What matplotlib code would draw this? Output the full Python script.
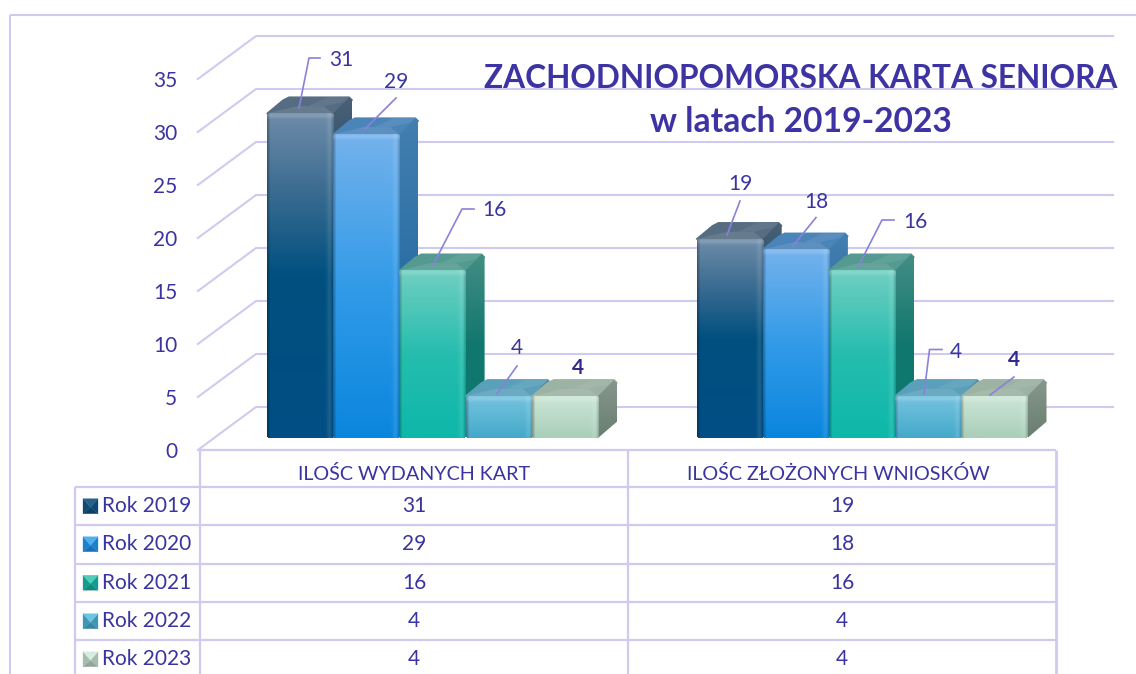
import numpy as np
import matplotlib
matplotlib.use("Agg")
import matplotlib.pyplot as plt
from matplotlib.patches import Polygon
from matplotlib.colors import to_rgb
from matplotlib.transforms import ScaledTranslation

# ---------- data ----------
categories = ["ILOŚC WYDANYCH KART", "ILOŚC ZŁOŻONYCH WNIOSKÓW"]
series_names = ["Rok 2019", "Rok 2020", "Rok 2021", "Rok 2022", "Rok 2023"]
rok_2019 = [31, 19]
rok_2020 = [29, 18]
rok_2021 = [16, 16]
rok_2022 = [4, 4]
rok_2023 = [4, 4]
series_values = [rok_2019, rok_2020, rok_2021, rok_2022, rok_2023]
y_ticks = [0, 5, 10, 15, 20, 25, 30, 35]
title_line_1 = "ZACHODNIOPOMORSKA KARTA SENIORA"
title_line_2 = "w latach 2019-2023"

# ---------- style ----------
W, H = 1136, 674
plt.rcParams["font.family"] = ["Lato", "DejaVu Sans"]
TXT = "#3A34A0"
LINE = "#CFCAF0"
LEAD = "#8A82D8"

FRONT = [
    [(0, "#6E8CA8"), (0.22, "#3F6E93"), (0.5, "#00507F"), (1, "#004E84")],
    [(0, "#74B2EC"), (0.5, "#329BE8"), (1, "#0A86DE")],
    [(0, "#70CFC2"), (0.5, "#25BDAE"), (1, "#0DB8AA")],
    [(0, "#74C3DE"), (1, "#45A9CA")],
    [(0, "#CBE6D5"), (1, "#A9CEB9")],
]
SIDE = [
    [(0, "#4B6175"), (0.5, "#003E66"), (1, "#003E66")],
    [(0, "#437FB0"), (1, "#145E98")],
    [(0, "#438E84"), (0.5, "#10776E"), (1, "#0F7A70")],
    [(0, "#4E8CA6"), (1, "#3A7F9C")],
    [(0, "#86988B"), (1, "#697E70")],
]
TOP = ["#566C82", "#4B84B8", "#549A90", "#5AA0BA", "#9CB2A3"]
KEY = [
    ("#27608A", "#0F4A75", "#0B3F66"),
    ("#4FB0F0", "#1C80CC", "#1671B8"),
    ("#4ECDB8", "#149C8E", "#118A7E"),
    ("#6CC6E2", "#4096B4", "#3A86A2"),
    ("#D6ECDF", "#A6BDAE", "#8FA698"),
]


def px_to_fig(x0, y0, x1, y1):
    """figure rectangle from reference pixel corners (y downwards)"""
    return [x0 / W, 1 - y0 / H, (x1 - x0) / W, (y0 - y1) / H]


fig = plt.figure(figsize=(W / 100, H / 100), dpi=100, facecolor="white")

# ---------- back wall, floor and value axis ----------
ax_wall = fig.add_axes(px_to_fig(200, 450, 1056, 79), zorder=1)
ax_wall.patch.set_visible(False)
ax_wall.set_xlim(-0.5, 1.5)
ax_wall.set_ylim(0, 35)
for s in ax_wall.spines.values():
    s.set_visible(False)
ax_wall.set_yticks(y_ticks)
ax_wall.set_yticklabels([str(v) for v in y_ticks], fontsize=15, color=TXT)
ax_wall.tick_params(axis="y", length=0, pad=16.5)
ax_wall.set_xticks(range(len(categories)))
ax_wall.set_xticklabels(categories, fontsize=14.2, color=TXT)
ax_wall.tick_params(axis="x", length=0, pad=11)
ax_wall.get_xticklabels()[1].set_transform(
    ax_wall.get_xticklabels()[1].get_transform()
    + ScaledTranslation(-3.5 / 100, 0, fig.dpi_scale_trans))

wall_dx = 56 / 428          # depth in category units
wall_dy = 43 / 10.6         # depth in value units
wall_right = (1113 - 200) / 428 - 0.5
for v in y_ticks:
    ax_wall.plot([-0.505, -0.5 + wall_dx, wall_right],
                 [v, v + wall_dy, v + wall_dy],
                 color=LINE, lw=1.5, clip_on=False, zorder=1,
                 solid_joinstyle="miter")

# ---------- 3-D bars ----------
UNIT_PX = 10.47
ax_bars = fig.add_axes(px_to_fig(200, 438, 1056, 438 - 35 * UNIT_PX), zorder=2)
ax_bars.patch.set_visible(False)
ax_bars.axis("off")

PX_X = 1 / 428
PX_Y = 1 / UNIT_PX
bar_w = 66.2 * PX_X
dx = 19 * PX_X
dy = 16.3 * PX_Y
shift = [18.5 * PX_X, 20 * PX_X]
cx = 3 * PX_X
cy = 3 * PX_Y


def ramp(stops, n):
    pos = [p for p, _ in stops]
    rgb = np.array([to_rgb(c) for _, c in stops])
    t = np.linspace(0, 1, n)
    return np.stack([np.interp(t, pos, rgb[:, k]) for k in range(3)], axis=1)


def front_image(stops, w, h):
    col = ramp(stops, h)
    img = np.repeat(col[:, None, :], w, axis=1)
    a = np.ones((h, w))
    xx = np.arange(w)
    yy = np.arange(h)
    left = np.clip(xx / 3.0, 0, 1)
    right = np.clip((w - 1 - xx) / 2.5, 0, 1)
    edge = (0.72 + 0.28 * left) * (0.82 + 0.18 * right)
    img = img * edge[None, :, None]
    # soft light bevel near the right edge and top edge
    glow_r = np.exp(-((w - 5 - xx) / 2.5) ** 2) * 0.10
    img = img + (1 - img) * glow_r[None, :, None]
    glow_t = np.exp(-((yy - 2) / 2.5) ** 2) * 0.16
    img = img + (1 - img) * glow_t[:, None, None]
    # rounded corners
    r = 3
    for j in range(min(r, h)):
        for i in range(r):
            d = np.hypot(r - i - 0.5, r - j - 0.5)
            if d > r:
                a[j, i] = a[j, w - 1 - i] = 0
                a[h - 1 - j, i] = a[h - 1 - j, w - 1 - i] = 0
    return np.dstack([np.clip(img, 0, 1), a])


def mix(c, amount):
    rgb = np.array(to_rgb(c))
    return tuple(rgb + (1 - rgb) * amount)


for c in range(len(categories)):
    for i, vals in enumerate(series_values):
        v = vals[c]
        x0 = c + shift[c] + (i - 2.5) * bar_w
        x1 = x0 + bar_w
        # top face with softened back corners
        ax_bars.add_patch(Polygon(
            [(x0, v), (x1, v), (x1 + dx, v + dy - cy), (x1 + dx - cx, v + dy),
             (x0 + dx + cx, v + dy), (x0 + dx - cx, v + dy - cy)],
            closed=True, fc=TOP[i], ec=TOP[i], lw=1.0, joinstyle="round", zorder=2 + i * 3))
        ax_bars.add_patch(Polygon(
            [(x0, v), (x1, v), (x1 - 0.5 * dx, v + 0.45 * dy), (x0 + 1.6 * dx, v + 0.45 * dy)],
            closed=True, fc=mix(TOP[i], 0.10), ec="none", zorder=2 + i * 3))
        ax_bars.add_patch(Polygon(
            [(x0 + 0.62 * bar_w, v + 0.45 * dy), (x1 - 0.5 * dx, v + 0.45 * dy),
             (x1 + dx, v + dy - cy), (x1 + dx - cx, v + dy), (x0 + 0.62 * bar_w + dx, v + dy)],
            closed=True, fc=mix(TOP[i], 0.07), ec="none", zorder=2 + i * 3))
        # side face
        side_h = max(int(round((v + dy) / PX_Y)), 2)
        im = ax_bars.imshow(ramp(SIDE[i], side_h)[:, None, :], extent=(x1, x1 + dx, 0, v + dy),
                            aspect="auto", interpolation="bilinear", zorder=3 + i * 3)
        clip = Polygon([(x1, 0), (x1 + dx, dy), (x1 + dx, v + dy - cy),
                        (x1 + dx - cx, v + dy), (x1, v)], closed=True,
                       transform=ax_bars.transData)
        im.set_clip_path(clip)
        # front face
        h_px = max(int(round(v / PX_Y)), 2)
        ax_bars.imshow(front_image(FRONT[i], 66, h_px), extent=(x0, x1, 0, v),
                       aspect="auto", interpolation="bilinear", zorder=4 + i * 3)

ax_bars.set_xlim(-0.5, 1.5)
ax_bars.set_ylim(0, 35)

# ---------- overlay: title, table, data labels (reference pixels) ----------
ov = fig.add_axes([0, 0, 1, 1], zorder=3)
ov.patch.set_visible(False)
ov.axis("off")

# chart frame
ov.plot([9.5, 9.5], [H, 14.5], color=LINE, lw=1.5, solid_capstyle="butt")
ov.plot([9.5, W], [14.5, 14.5], color=LINE, lw=1.5, solid_capstyle="butt")

# data table
rows_y = [487, 525, 563.5, 602, 640]
for x, lw in zip([200, 628, 1055.5], [1.6, 1.6, 2.0]):
    ov.plot([x, x], [450, H], color=LINE, lw=lw, solid_capstyle="butt")
ov.plot([75, 75], [487, H], color=LINE, lw=1.6, solid_capstyle="butt")
ov.plot([200, 1056], [450, 450], color=LINE, lw=1.6, solid_capstyle="butt")
for y in rows_y:
    ov.plot([75, 1056], [y, y], color=LINE, lw=1.6, solid_capstyle="butt")

row_h = 38.4
centers = [414, 842]
for i, (name, vals) in enumerate(zip(series_names, series_values)):
    yc = rows_y[i] + row_h / 2
    ov.text(102, yc, name, fontsize=15, color=TXT, ha="left", va="center")
    for tx, v in zip(centers, vals):
        ov.text(tx, yc, str(v), fontsize=15, color=TXT, ha="center", va="center")
    # pyramid-shaded legend key
    kx0, kx1, ky0, ky1 = 83, 98, yc - 7.5, yc + 7.5
    kc = ((kx0 + kx1) / 2, yc + 1)
    t, s, b = KEY[i]
    ov.add_patch(Polygon([(kx0, ky1), (kx1, ky1), kc], fc=b, ec=b, lw=0.2))
    ov.add_patch(Polygon([(kx0, ky0), (kx0, ky1), kc], fc=s, ec=s, lw=0.2))
    ov.add_patch(Polygon([(kx1, ky0), (kx1, ky1), kc], fc=s, ec=s, lw=0.2))
    ov.add_patch(Polygon([(kx0, ky0), (kx1, ky0), kc], fc=t, ec=t, lw=0.2))

# data labels: (category, series, label centre, leader path)
label_layout = [
    (0, 0, (341, 60.5), [(299, 108), (309, 58), (320, 58)]),
    (0, 1, (396, 81.5), [(365, 129), (396, 98)]),
    (0, 2, (494, 210.5), [(433, 265), (462, 209), (474, 209)]),
    (0, 3, (517, 348.5), [(497, 394), (517, 366)]),
    (0, 4, (577.5, 368.5), None),
    (1, 0, (740, 184.5), [(727, 235), (740, 201)]),
    (1, 1, (816, 201.5), [(793, 246), (816, 217.5)]),
    (1, 2, (915, 222.5), [(858, 267), (882, 220), (894, 220)]),
    (1, 3, (956, 352.5), [(924, 394), (929.5, 349.5), (942, 349.5)]),
    (1, 4, (1014, 360.5), [(990, 395), (1014, 377)]),
]
for c, i, (tx, ty), path in label_layout:
    bold = i == 4
    ov.text(tx, ty, str(series_values[i][c]), fontsize=15, ha="center", va="center",
            color="#312A8C" if bold else TXT, fontweight="bold" if bold else "normal")
    if path:
        ov.plot(*zip(*path), color=LEAD, lw=1.2, solid_joinstyle="miter")

ov.set_xlim(0, W)
ov.set_ylim(H, 0)

# title
fig.text(801 / W, 1 - 78 / H, title_line_1, fontsize=22.75, fontweight="bold", color="#3D33A3",
         ha="center", va="center", zorder=10)
fig.text(801 / W, 1 - 122 / H, title_line_2, fontsize=24.2, fontweight="bold", color="#3D33A3",
         ha="center", va="center", zorder=10)

fig.savefig("out.png", dpi=100)
